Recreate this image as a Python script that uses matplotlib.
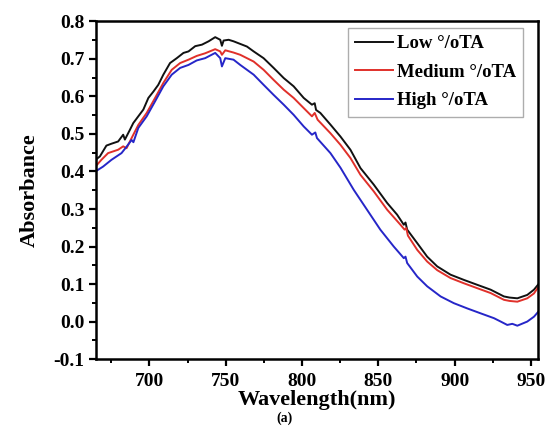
import matplotlib
matplotlib.use("Agg")
import matplotlib.pyplot as plt
from matplotlib.ticker import MultipleLocator

# ---- data ----
wl_low = [664.6, 667.5, 671.8, 675.1, 679.5, 682.8, 683.9, 687.2, 689.4, 692.7, 696.0, 699.3,
          702.6, 705.8, 709.1, 713.5, 717.9, 722.3, 725.6, 730.0, 734.4, 738.8, 743.1, 746.4,
          747.5, 748.6, 751.9, 755.1, 759.5, 763.9, 768.3, 774.8, 781.4, 788.0, 794.5, 801.1,
          806.5, 808.3, 809.2, 812.0, 818.6, 825.2, 831.7, 838.3, 847.0, 855.8, 862.3, 866.7,
          867.8, 868.9, 875.5, 882.0, 888.6, 897.3, 906.1, 914.8, 923.6, 932.3, 936.0, 941.1,
          947.6, 952.0, 955.0]
abs_low = [0.431, 0.440, 0.469, 0.474, 0.480, 0.498, 0.485, 0.511, 0.529, 0.547, 0.565, 0.596,
           0.613, 0.631, 0.658, 0.689, 0.702, 0.716, 0.720, 0.734, 0.738, 0.747, 0.758, 0.751,
           0.735, 0.749, 0.751, 0.747, 0.740, 0.733, 0.720, 0.702, 0.676, 0.649, 0.627, 0.596,
           0.578, 0.582, 0.564, 0.556, 0.525, 0.493, 0.458, 0.409, 0.365, 0.316, 0.285, 0.258,
           0.264, 0.245, 0.209, 0.173, 0.147, 0.125, 0.111, 0.098, 0.085, 0.067, 0.064, 0.062,
           0.071, 0.085, 0.100]

wl_med = [664.6, 668.5, 672.9, 679.5, 682.8, 685.0, 688.3, 692.7, 698.2, 703.7, 709.1, 714.6,
          720.1, 725.6, 731.0, 736.5, 743.1, 746.4, 747.5, 749.7, 755.1, 759.5, 768.3, 774.8,
          781.4, 788.0, 794.5, 801.1, 806.5, 808.3, 810.2, 818.6, 825.2, 831.7, 838.3, 847.0,
          855.8, 864.5, 867.2, 868.3, 869.4, 875.5, 882.0, 888.6, 897.3, 906.1, 914.8, 923.6,
          932.3, 936.0, 941.1, 947.6, 952.0, 955.0]
abs_med = [0.413, 0.431, 0.449, 0.458, 0.467, 0.462, 0.489, 0.524, 0.556, 0.596, 0.636, 0.671,
           0.689, 0.698, 0.708, 0.715, 0.726, 0.720, 0.711, 0.723, 0.717, 0.711, 0.693, 0.671,
           0.644, 0.618, 0.596, 0.569, 0.547, 0.556, 0.538, 0.502, 0.471, 0.436, 0.391, 0.347,
           0.298, 0.258, 0.245, 0.249, 0.229, 0.191, 0.160, 0.137, 0.116, 0.102, 0.089, 0.076,
           0.058, 0.055, 0.053, 0.062, 0.075, 0.093]

wl_high = [664.6, 669.6, 675.1, 681.7, 685.0, 688.3, 689.5, 692.7, 698.2, 703.7, 709.1, 714.6,
           720.1, 725.6, 731.0, 736.5, 743.1, 746.4, 747.5, 749.7, 755.1, 759.5, 768.3, 774.8,
           781.4, 788.0, 794.5, 801.1, 806.5, 808.7, 809.8, 818.6, 825.2, 833.9, 842.6, 851.3,
           860.1, 866.7, 867.8, 868.9, 875.5, 882.0, 890.8, 899.5, 908.3, 917.0, 925.8, 930.2,
           934.5, 937.8, 941.1, 947.6, 952.0, 955.0]
abs_high = [0.400, 0.413, 0.431, 0.449, 0.466, 0.484, 0.478, 0.516, 0.547, 0.587, 0.627, 0.658,
            0.676, 0.684, 0.696, 0.702, 0.716, 0.702, 0.680, 0.702, 0.698, 0.684, 0.658, 0.631,
            0.604, 0.578, 0.551, 0.520, 0.498, 0.504, 0.489, 0.449, 0.410, 0.351, 0.298, 0.245,
            0.200, 0.169, 0.173, 0.156, 0.120, 0.094, 0.067, 0.049, 0.035, 0.022, 0.009, 0.000,
            -0.009, -0.006, -0.011, 0.000, 0.013, 0.027]

labels = ["Low °/oTA", "Medium °/oTA", "High °/oTA"]
colors = ["#111111", "#e0302a", "#2626c8"]

x_ticks = [700, 750, 800, 850, 900, 950]
y_ticks = [-0.1, 0.0, 0.1, 0.2, 0.3, 0.4, 0.5, 0.6, 0.7, 0.8]

# ---- plot ----
plt.rcParams['font.family'] = ['Liberation Serif', 'DejaVu Serif']
plt.rcParams['font.weight'] = 'bold'

fig = plt.figure(figsize=(5.47, 4.28), dpi=100)
ax = fig.add_axes([0.175, 0.161, 0.809, 0.789])

for wl, ab, lab, c in zip([wl_low, wl_med, wl_high], [abs_low, abs_med, abs_high], labels, colors):
    ax.plot(wl, ab, color=c, lw=1.4, label=lab)

ax.set_xlim(664.8, 954.8)
ax.set_ylim(-0.1, 0.8)
ax.set_xticks(x_ticks)
ax.set_yticks(y_ticks)
ax.set_yticklabels([f"{v:.1f}" for v in y_ticks])
ax.xaxis.set_minor_locator(MultipleLocator(25))
ax.yaxis.set_minor_locator(MultipleLocator(0.05))
ax.tick_params(which='major', direction='out', length=5, width=1.6, labelsize=14, pad=5)
ax.tick_params(which='minor', direction='out', length=3, width=1.4)
ax.tick_params(axis='y', pad=3)
for lbl in ax.get_xticklabels() + ax.get_yticklabels():
    lbl.set_fontweight('bold')
for s in ax.spines.values():
    s.set_linewidth(1.8)

ax.set_xlabel("Wavelength(nm)", fontsize=16, fontweight='bold', labelpad=0)
ax.set_ylabel("Absorbance", fontsize=16, fontweight='bold', labelpad=10)
fig.text(0.52, 0.006, "(a)", ha='center', va='bottom', fontsize=10, fontweight='bold')

leg = ax.legend(loc='upper right', bbox_to_anchor=(0.966, 0.981), frameon=True, fancybox=False,
                prop={'size': 13.5, 'weight': 'bold'}, handlelength=2.0, handletextpad=0.2,
                labelspacing=0.6, borderpad=0.4, borderaxespad=0.0)
leg.get_frame().set_edgecolor('#999999')
leg.get_frame().set_linewidth(1.0)

fig.savefig("out.png", dpi=100)
